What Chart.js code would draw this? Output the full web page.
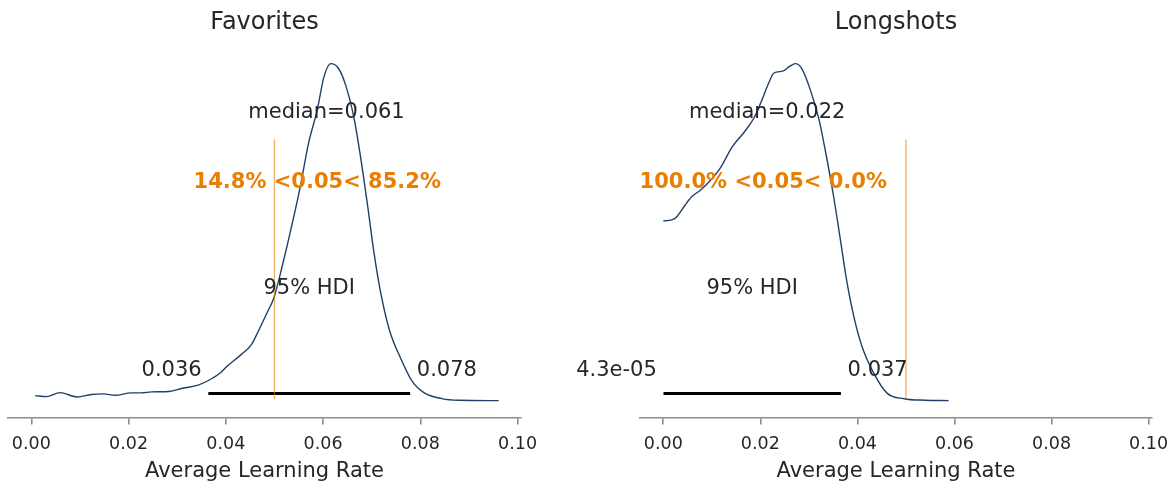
<!DOCTYPE html>
<html>
<head>
<meta charset="utf-8">
<script src="https://cdn.jsdelivr.net/npm/chart.js@4.4.1/dist/chart.umd.min.js"></script>
<style>
  body { margin: 0; background: #fff; overflow: hidden; }
  #wrap { position: relative; width: 1175px; height: 483px; overflow: hidden; }
  canvas { position: absolute; top: 0; }
</style>
</head>
<body>
<div id="wrap">
  <canvas id="favChart" width="560" height="483" style="left:0"></canvas>
  <canvas id="longChart" width="625" height="483" style="left:560px"></canvas>
</div>
<script>
// shared x axis
const X_MIN = -0.0048;
const X_MAX = 0.1007;
const xTicks = [0, 0.02, 0.04, 0.06, 0.08, 0.10];
const refValue = 0.05;
const xTitle = "Average Learning Rate";

// Favorites posterior (kde)
const favX = [0.0008, 0.0031, 0.0059, 0.0094, 0.0123, 0.0148, 0.0173, 0.0205, 0.0226, 0.0247,
  0.0283, 0.0311, 0.0343, 0.0368, 0.0389, 0.0403, 0.0432, 0.0453, 0.0467, 0.0485,
  0.0499, 0.0517, 0.0538, 0.0553, 0.0570, 0.0588, 0.0602, 0.0616, 0.0631, 0.0645,
  0.0663, 0.0677, 0.0691, 0.0705, 0.0719, 0.0737, 0.0759, 0.0783, 0.0808, 0.0844,
  0.0879, 0.0961];
const favDensity = [0.86, 0.69, 1.38, 0.63, 1.04, 1.15, 0.92, 1.33, 1.33, 1.50,
  1.56, 2.13, 2.65, 3.63, 4.79, 5.94, 7.96, 9.69, 11.99, 15.16,
  17.76, 23.52, 31.02, 36.78, 44.28, 50.04, 55.81, 58.0, 57.25, 54.65,
  48.89, 41.97, 33.90, 25.25, 18.33, 11.99, 7.38, 3.34, 1.33, 0.35,
  0.06, 0];
const favHdi = [0.0364, 0.0779];
const favHdiLabels = ["0.036", "0.078"];
const favMedian = 0.0607;
const favMean = 0.0588;
const favMedianText = "median=0.061";
const favRefText = "14.8% <0.05< 85.2%";

// Longshots posterior
const longX = [0, 0.0017, 0.0027, 0.0045, 0.0059, 0.0077, 0.0095, 0.0117, 0.0142, 0.0167,
  0.0188, 0.0203, 0.0217, 0.0228, 0.0246, 0.0260, 0.0272, 0.0285, 0.0303, 0.0321,
  0.0335, 0.0350, 0.0364, 0.0378, 0.0393, 0.0410, 0.0432, 0.0461, 0.0496, 0.0539,
  0.0588];
const longDensity = [19.2, 19.3, 19.6, 20.9, 21.8, 22.5, 23.4, 24.8, 27.1, 28.7,
  30.3, 32.1, 33.9, 35.0, 35.2, 35.7, 36.0, 35.5, 33.2, 30.0,
  26.4, 22.1, 17.5, 12.8, 8.9, 5.7, 3.1, 0.8, 0.2, 0.04,
  0];
const longHdi = [0.000043, 0.0366];
const longHdiLabels = ["4.3e-05", "0.037"];
const longMedian = 0.0214;
const longMean = 0.0206;
const longMedianText = "median=0.022";
const longRefText = "100.0% <0.05< 0.0%";

const FONT = "'DejaVu Sans', sans-serif";
const CURVE = "#1f4068";
const ORANGE = "#e87e04";
const TEXT = "#262626";
const AXIS = "#8c8c8c";

// draws the arviz style texts at data coordinates
const posteriorText = {
  id: "posteriorText",
  afterDatasetsDraw(chart, args, opts) {
    const ctx = chart.ctx;
    const xs = chart.scales.x, ys = chart.scales.y;
    ctx.save();
    opts.items.forEach(function (t) {
      ctx.font = (t.bold ? "bold " : "") + "21px " + FONT;
      ctx.fillStyle = t.color || TEXT;
      ctx.textAlign = t.align || "center";
      ctx.textBaseline = "alphabetic";
      ctx.fillText(t.text, xs.getPixelForValue(t.x), ys.getPixelForValue(t.y));
    });
    ctx.restore();
  }
};

function drawPanel(id, p) {
  const peak = Math.max.apply(null, p.ys);
  const yMin = -0.05 * peak;
  const yMax = 1.05 * peak;
  const items = [
    { text: p.medianText, x: p.median, y: yMax * 0.8 },
    { text: p.refText, x: p.mean, y: yMax * 0.6, bold: true, color: ORANGE },
    { text: "95% HDI", x: (p.hdi[0] + p.hdi[1]) / 2, y: yMax * 0.3 },
    { text: p.hdiLabels[0] + " ", x: p.hdi[0], y: yMax * 0.07, align: "right" },
    { text: " " + p.hdiLabels[1], x: p.hdi[1], y: yMax * 0.07, align: "left" }
  ];
  new Chart(document.getElementById(id), {
    type: "line",
    data: {
      datasets: [
        {
          data: p.xs.map(function (x, i) { return { x: x, y: p.ys[i] }; }),
          borderColor: CURVE, borderWidth: 1.4, pointRadius: 0,
          cubicInterpolationMode: "monotone", fill: false, order: 3
        },
        {
          data: [{ x: p.hdi[0], y: yMax * 0.02 }, { x: p.hdi[1], y: yMax * 0.02 }],
          borderColor: "#000", borderWidth: 3, borderCapStyle: "butt",
          pointRadius: 0, fill: false, order: 2
        },
        {
          data: [{ x: refValue, y: yMin + 0.05 * (yMax - yMin) }, { x: refValue, y: yMin + 0.75 * (yMax - yMin) }],
          borderColor: "rgba(232,126,4,0.6)", borderWidth: 1.4,
          pointRadius: 0, fill: false, order: 1
        }
      ]
    },
    options: {
      responsive: false,
      animation: false,
      devicePixelRatio: 1,
      layout: { padding: { left: p.padLeft, right: p.padRight, top: 0, bottom: 0 } },
      plugins: {
        legend: { display: false },
        tooltip: { enabled: false },
        title: {
          display: true, text: p.title, color: TEXT,
          font: { family: FONT, size: 24, weight: "normal" },
          padding: { top: 8, bottom: 10 }
        },
        posteriorText: { items: items }
      },
      scales: {
        x: {
          type: "linear", min: X_MIN, max: X_MAX,
          afterBuildTicks: function (s) { s.ticks = xTicks.map(function (v) { return { value: v }; }); },
          grid: { drawOnChartArea: false, drawTicks: true, tickLength: 7, color: AXIS, lineWidth: 1.6 },
          border: { display: true, color: AXIS, width: 1.5 },
          ticks: {
            padding: 10, color: TEXT, maxRotation: 0, autoSkip: false,
            font: { family: FONT, size: 17.5 },
            callback: function (v) { return Number(v).toFixed(2); }
          },
          title: {
            display: true, text: xTitle, color: TEXT,
            font: { family: FONT, size: 21, lineHeight: 0.55 },
            padding: { top: 0, bottom: 6 }
          }
        },
        y: { display: false, min: yMin, max: yMax }
      }
    },
    plugins: [posteriorText]
  });
}

drawPanel("favChart", {
  title: "Favorites", xs: favX, ys: favDensity, hdi: favHdi, hdiLabels: favHdiLabels,
  median: favMedian, mean: favMean, medianText: favMedianText, refText: favRefText,
  padLeft: 8, padRight: 39
});
drawPanel("longChart", {
  title: "Longshots", xs: longX, ys: longDensity, hdi: longHdi, hdiLabels: longHdiLabels,
  median: longMedian, mean: longMean, medianText: longMedianText, refText: longRefText,
  padLeft: 80, padRight: 33
});
</script>
</body>
</html>
